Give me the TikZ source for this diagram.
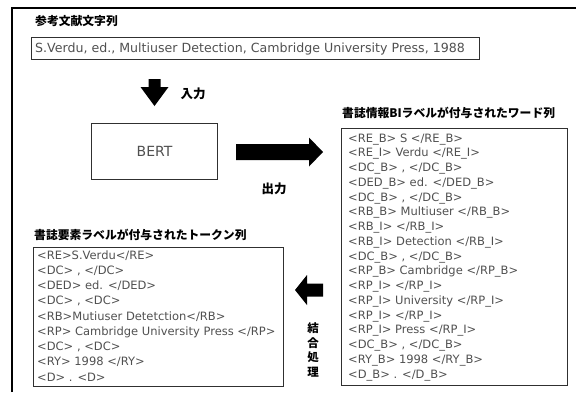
\documentclass[tikz,border=0pt]{standalone}
\usepackage{fontspec}
\setmainfont{DejaVu Sans}
\newfontfamily\jp{Noto Sans CJK JP}
\definecolor{txt}{HTML}{505050}
\definecolor{edge}{HTML}{303030}
\begin{document}
\begin{tikzpicture}[x=1pt,y=-1pt,
  box/.style={draw=edge, line width=1.2pt, inner sep=0, anchor=north west},
  body/.style={font=\fontsize{11.5}{13}\selectfont, text=txt, inner sep=0, anchor=base west},
  ttl/.style={font=\jp\bfseries\fontsize{11.8}{13}\selectfont, inner sep=0, anchor=west},
  lbl/.style={font=\jp\bfseries\fontsize{12.5}{14.7}\selectfont, inner sep=0, align=center},
  blk/.style={fill=black}]
\useasboundingbox (0,0) rectangle (576,392);
% outer frame (cut by the page on the right and at the bottom)
\draw[line width=1.5pt] (12,392) -- (12,8) -- (576,8);

% source string
\node[ttl] (t1) at (35,21) {参考文献文字列};
\node[box, minimum width=448, minimum height=22] (cite) at (31,37) {};
\node[body, font=\fontsize{12.6}{15}\selectfont] (citetxt) at (35,52.5) {S.Verdu, ed., Multiuser Detection, Cambridge University Press, 1988};

% input arrow
\fill[blk] (148.5,79) -- (160.5,79) -- (160.5,87) -- (168.5,87) -- (154.5,106) -- (140.5,87) -- (148.5,87) -- cycle;
\node[lbl] (in) at (193,94) {入力};

% BERT
\node[box, minimum width=126, minimum height=56] (bert) at (91,123) {};
\node[inner sep=0, text=txt, font=\fontsize{14}{16}\selectfont] (berttxt) at (bert.center) {BERT};

% output arrow
\fill[blk] (236,144) -- (309,144) -- (309,137.5) -- (323,152) -- (309,166.5) -- (309,160) -- (236,160) -- cycle;
\node[lbl] (out) at (274,189) {出力};

% BI-labelled word sequence
\node[ttl] (t2) at (342,113) {書誌情報BIラベルが付与されたワード列};
\node[box, minimum width=226, minimum height=257] (wbox) at (341,128) {};
\foreach \t [count=\i from 0] in {
  {<RE\_B> S </RE\_B>},
  {<RE\_I> Verdu </RE\_I>},
  {<DC\_B> , </DC\_B>},
  {<DED\_B> ed. </DED\_B>},
  {<DC\_B> , </DC\_B>},
  {<RB\_B> Multiuser </RB\_B>},
  {<RB\_I> </RB\_I>},
  {<RB\_I> Detection </RB\_I>},
  {<DC\_B> , </DC\_B>},
  {<RP\_B> Cambridge </RP\_B>},
  {<RP\_I> </RP\_I>},
  {<RP\_I> University </RP\_I>},
  {<RP\_I> </RP\_I>},
  {<RP\_I> Press </RP\_I>},
  {<DC\_B> , </DC\_B>},
  {<RY\_B> 1998 </RY\_B>},
  {<D\_B> . </D\_B>}}
  \node[body] (w\i) at (348,142+\i*14.75) {\t};

% combine arrow
\fill[blk] (295,290) -- (307,275) -- (307,283.5) -- (323,283.5) -- (323,296.5) -- (307,296.5) -- (307,305) -- cycle;
\node[lbl, font=\jp\bfseries\fontsize{11.5}{14.7}\selectfont] (comb) at (313,350) {結\\合\\処\\理};

% element-labelled token sequence
\node[ttl] (t3) at (34,235) {書誌要素ラベルが付与されたトークン列};
\node[box, minimum width=250, minimum height=139] (tbox) at (33,247) {};
\foreach \t [count=\i from 0] in {
  {<RE>S.Verdu</RE>},
  {<DC> , </DC>},
  {<DED> ed. </DED>},
  {<DC> , <DC>},
  {<RB>Mutiuser Detetction</RB>},
  {<RP> Cambridge University Press </RP>},
  {<DC> , <DC>},
  {<RY> 1998 </RY>},
  {<D> . <D>}}
  \node[body] (k\i) at (37,259+\i*15.25) {\t};
\end{tikzpicture}
\end{document}
